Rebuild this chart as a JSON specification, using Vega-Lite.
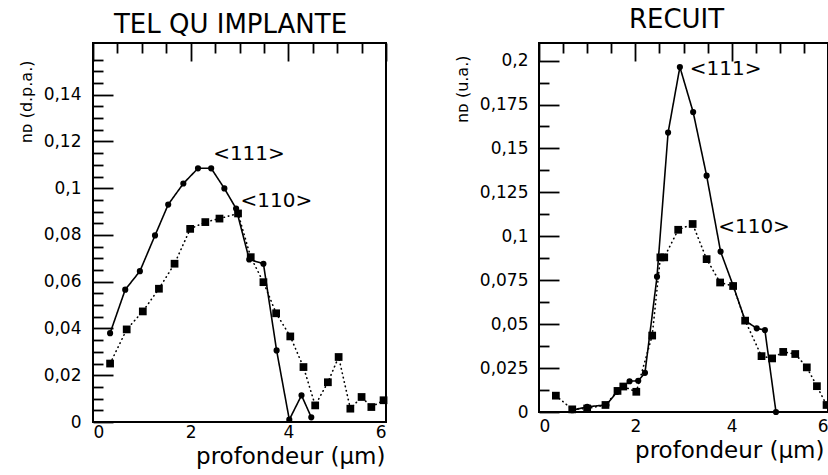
{
  "$schema": "https://vega.github.io/schema/vega-lite/v6.json",
  "background": "white",
  "padding": {"left": 17, "top": 6, "right": 0, "bottom": 0},
  "config": {
    "font": "DejaVu Sans",
    "view": {"stroke": "black", "strokeWidth": 2},
    "axis": {
      "grid": false,
      "domain": false,
      "ticks": false,
      "tickCount": 1000,
      "gridColor": "black",
      "gridOpacity": 1,
      "gridWidth": 1.8,
      "labelColor": "black",
      "labelFont": "DejaVu Sans",
      "labelFontSize": 17,
      "titleColor": "black",
      "titleFont": "DejaVu Sans",
      "titleFontWeight": "normal"
    },
    "title": {"fontWeight": "normal", "fontSize": 26, "color": "black", "font": "DejaVu Sans"},
    "concat": {"spacing": 64}
  },
  "datasets": {
    "implante": [
      {"serie": "<111>", "d": 0.35, "v": 0.038},
      {"serie": "<111>", "d": 0.66, "v": 0.0566},
      {"serie": "<111>", "d": 0.96, "v": 0.0645},
      {"serie": "<111>", "d": 1.27, "v": 0.0798},
      {"serie": "<111>", "d": 1.54, "v": 0.093},
      {"serie": "<111>", "d": 1.85, "v": 0.102},
      {"serie": "<111>", "d": 2.15, "v": 0.1085},
      {"serie": "<111>", "d": 2.42, "v": 0.1085},
      {"serie": "<111>", "d": 2.69, "v": 0.0999},
      {"serie": "<111>", "d": 2.93, "v": 0.0913},
      {"serie": "<111>", "d": 3.2, "v": 0.0695},
      {"serie": "<111>", "d": 3.49, "v": 0.0677},
      {"serie": "<111>", "d": 3.76, "v": 0.0306},
      {"serie": "<111>", "d": 4.02, "v": 0.001},
      {"serie": "<111>", "d": 4.27, "v": 0.0114},
      {"serie": "<111>", "d": 4.47, "v": 0.002},
      {"serie": "<110>", "d": 0.35, "v": 0.025},
      {"serie": "<110>", "d": 0.69, "v": 0.0396},
      {"serie": "<110>", "d": 1.02, "v": 0.0473},
      {"serie": "<110>", "d": 1.35, "v": 0.057},
      {"serie": "<110>", "d": 1.67, "v": 0.0677},
      {"serie": "<110>", "d": 1.99, "v": 0.0826},
      {"serie": "<110>", "d": 2.3, "v": 0.0855},
      {"serie": "<110>", "d": 2.59, "v": 0.087},
      {"serie": "<110>", "d": 2.97, "v": 0.0892},
      {"serie": "<110>", "d": 3.23, "v": 0.0705},
      {"serie": "<110>", "d": 3.49, "v": 0.0598},
      {"serie": "<110>", "d": 3.75, "v": 0.0465},
      {"serie": "<110>", "d": 4.04, "v": 0.0366},
      {"serie": "<110>", "d": 4.31, "v": 0.0235},
      {"serie": "<110>", "d": 4.55, "v": 0.0071},
      {"serie": "<110>", "d": 4.81, "v": 0.017},
      {"serie": "<110>", "d": 5.03, "v": 0.0278},
      {"serie": "<110>", "d": 5.27, "v": 0.0057},
      {"serie": "<110>", "d": 5.5, "v": 0.0107},
      {"serie": "<110>", "d": 5.7, "v": 0.0064},
      {"serie": "<110>", "d": 5.95, "v": 0.0093}
    ],
    "recuit": [
      {"serie": "<111>", "d": 0.69, "v": 0.001},
      {"serie": "<111>", "d": 1.0, "v": 0.003},
      {"serie": "<111>", "d": 1.4, "v": 0.004},
      {"serie": "<111>", "d": 1.62, "v": 0.0115},
      {"serie": "<111>", "d": 1.88, "v": 0.0175},
      {"serie": "<111>", "d": 2.06, "v": 0.0178},
      {"serie": "<111>", "d": 2.2, "v": 0.0223},
      {"serie": "<111>", "d": 2.45, "v": 0.077},
      {"serie": "<111>", "d": 2.68, "v": 0.159},
      {"serie": "<111>", "d": 2.925, "v": 0.1963},
      {"serie": "<111>", "d": 3.2, "v": 0.1707},
      {"serie": "<111>", "d": 3.48, "v": 0.1345},
      {"serie": "<111>", "d": 3.77, "v": 0.0913},
      {"serie": "<111>", "d": 4.03, "v": 0.072},
      {"serie": "<111>", "d": 4.28, "v": 0.052},
      {"serie": "<111>", "d": 4.52, "v": 0.0476},
      {"serie": "<111>", "d": 4.69, "v": 0.0466},
      {"serie": "<111>", "d": 4.92, "v": 0.0},
      {"serie": "<110>", "d": 0.35, "v": 0.0093},
      {"serie": "<110>", "d": 0.69, "v": 0.0015},
      {"serie": "<110>", "d": 1.0, "v": 0.002},
      {"serie": "<110>", "d": 1.38, "v": 0.004},
      {"serie": "<110>", "d": 1.63, "v": 0.012},
      {"serie": "<110>", "d": 1.75, "v": 0.0145},
      {"serie": "<110>", "d": 2.02, "v": 0.0115},
      {"serie": "<110>", "d": 2.35, "v": 0.0435},
      {"serie": "<110>", "d": 2.52, "v": 0.088},
      {"serie": "<110>", "d": 2.6, "v": 0.088},
      {"serie": "<110>", "d": 2.89, "v": 0.1037},
      {"serie": "<110>", "d": 3.19, "v": 0.107},
      {"serie": "<110>", "d": 3.48, "v": 0.087},
      {"serie": "<110>", "d": 3.76, "v": 0.0737},
      {"serie": "<110>", "d": 4.03, "v": 0.0717},
      {"serie": "<110>", "d": 4.28, "v": 0.052},
      {"serie": "<110>", "d": 4.62, "v": 0.0318},
      {"serie": "<110>", "d": 4.84, "v": 0.0305},
      {"serie": "<110>", "d": 5.07, "v": 0.0342},
      {"serie": "<110>", "d": 5.32, "v": 0.033},
      {"serie": "<110>", "d": 5.56, "v": 0.0254},
      {"serie": "<110>", "d": 5.77, "v": 0.0147},
      {"serie": "<110>", "d": 5.97, "v": 0.004}
    ],
    "etiquettes_implante": [
      {"d": 2.46, "v": 0.1148, "txt": "<111>"},
      {"d": 3.02, "v": 0.0947, "txt": "<110>"}
    ],
    "etiquettes_recuit": [
      {"d": 3.13, "v": 0.195, "txt": "<111>"},
      {"d": 3.72, "v": 0.1054, "txt": "<110>"}
    ]
  },
  "hconcat": [
    {
      "width": 293,
      "height": 379,
      "title": {"text": "TEL QU IMPLANTE", "offset": 5, "dx": -9},
      "data": {"name": "implante"},
      "layer": [
        {
          "mark": {"type": "line", "color": "black", "strokeWidth": 1.6, "strokeCap": "round"},
          "encoding": {
            "x": {
              "field": "d", "type": "quantitative",
              "scale": {"domain": [0, 6], "nice": false},
              "axis": {
                "title": "profondeur (µm)",
                "titleFontSize": 23,
                "titleAnchor": "end",
                "titleAlign": "right",
                "titleX": 292,
                "titlePadding": 5,
                "values": [0, 0.5, 1, 1.5, 2, 2.5, 3, 3.5, 4, 4.5, 5, 5.5, 6],
                "labelExpr": "datum.value % 2 == 0 ? format(datum.value, 'd') : ''",
                "grid": true,
                "gridDash": {"condition": {"test": "datum.value % 2 == 0", "value": [18, 2000]}, "value": [10, 2000]},
                "labelPadding": 2,
                "labelFontSize": 17
              }
            },
            "y": {
              "field": "v", "type": "quantitative",
              "scale": {"domain": [0, 0.1621], "nice": false},
              "axis": {
                "title": "nᴅ (d.p.a.)",
                "titleFontSize": 16,
                "titlePadding": 9,
                "titleAnchor": "end",
                "titleAlign": "right",
                "titleY": 17,
                "values": [0, 0.005, 0.01, 0.015, 0.02, 0.025, 0.03, 0.035, 0.04, 0.045, 0.05, 0.055, 0.06, 0.065, 0.07, 0.075, 0.08, 0.085, 0.09, 0.095, 0.1, 0.105, 0.11, 0.115, 0.12, 0.125, 0.13, 0.135, 0.14, 0.145, 0.15, 0.155],
                "labelExpr": "abs(datum.value * 50 - round(datum.value * 50)) < 0.001 && datum.value < 0.15 ? replace(format(datum.value, '~g'), '.', ',') : ''",
                "grid": true,
                "gridDash": {"condition": {"test": "abs(datum.value * 50 - round(datum.value * 50)) < 0.001", "value": [20, 2000]}, "value": [10, 2000]},
                "labelPadding": 12
              }
            },
            "detail": {"field": "serie"},
            "strokeDash": {
              "field": "serie", "type": "nominal",
              "scale": {"domain": ["<111>", "<110>"], "range": [[1, 0], [0.5, 4]]},
              "legend": null
            }
          }
        },
        {
          "transform": [{"filter": "datum.serie == '<111>'"}],
          "mark": {"type": "point", "shape": "circle", "filled": true, "color": "black", "size": 38, "opacity": 1},
          "encoding": {
            "x": {"field": "d", "type": "quantitative"},
            "y": {"field": "v", "type": "quantitative"}
          }
        },
        {
          "transform": [{"filter": "datum.serie == '<110>'"}],
          "mark": {"type": "square", "color": "black", "size": 60, "opacity": 1},
          "encoding": {
            "x": {"field": "d", "type": "quantitative"},
            "y": {"field": "v", "type": "quantitative"}
          }
        },
        {
          "data": {"name": "etiquettes_implante"},
          "mark": {"type": "text", "align": "left", "baseline": "middle", "fontSize": 20, "color": "black"},
          "encoding": {
            "x": {"field": "d", "type": "quantitative"},
            "y": {"field": "v", "type": "quantitative"},
            "text": {"field": "txt"}
          }
        }
      ]
    },
    {
      "width": 289,
      "height": 369,
      "title": {"text": "RECUIT", "offset": 9.7, "dx": -7},
      "data": {"name": "recuit"},
      "layer": [
        {
          "mark": {"type": "line", "color": "black", "strokeWidth": 1.6, "strokeCap": "round"},
          "encoding": {
            "x": {
              "field": "d", "type": "quantitative",
              "scale": {"domain": [0, 6], "nice": false},
              "axis": {
                "title": "profondeur (µm)",
                "titleFontSize": 23,
                "titleAnchor": "end",
                "titleAlign": "right",
                "titleX": 285,
                "titlePadding": 5,
                "values": [0, 0.5, 1, 1.5, 2, 2.5, 3, 3.5, 4, 4.5, 5, 5.5, 6],
                "labelExpr": "datum.value % 2 == 0 ? format(datum.value, 'd') : ''",
                "grid": true,
                "gridDash": {"condition": {"test": "datum.value % 2 == 0", "value": [18, 2000]}, "value": [10, 2000]},
                "labelPadding": 6,
                "labelFontSize": 17
              }
            },
            "y": {
              "field": "v", "type": "quantitative",
              "scale": {"domain": [0, 0.21], "nice": false},
              "axis": {
                "title": "nᴅ (u.a.)",
                "titleFontSize": 16,
                "titlePadding": 9,
                "titleAnchor": "end",
                "titleAlign": "right",
                "titleY": 12,
                "values": [0, 0.0125, 0.025, 0.0375, 0.05, 0.0625, 0.075, 0.0875, 0.1, 0.1125, 0.125, 0.1375, 0.15, 0.1625, 0.175, 0.1875, 0.2],
                "labelExpr": "abs(datum.value * 40 - round(datum.value * 40)) < 0.001 ? replace(format(datum.value, '~g'), '.', ',') : ''",
                "grid": true,
                "gridDash": {"condition": {"test": "abs(datum.value * 40 - round(datum.value * 40)) < 0.001", "value": [20, 2000]}, "value": [10, 2000]},
                "labelPadding": 11
              }
            },
            "detail": {"field": "serie"},
            "strokeDash": {
              "field": "serie", "type": "nominal",
              "scale": {"domain": ["<111>", "<110>"], "range": [[1, 0], [0.5, 4]]},
              "legend": null
            }
          }
        },
        {
          "transform": [{"filter": "datum.serie == '<111>'"}],
          "mark": {"type": "point", "shape": "circle", "filled": true, "color": "black", "size": 38, "opacity": 1},
          "encoding": {
            "x": {"field": "d", "type": "quantitative"},
            "y": {"field": "v", "type": "quantitative"}
          }
        },
        {
          "transform": [{"filter": "datum.serie == '<110>'"}],
          "mark": {"type": "square", "color": "black", "size": 60, "opacity": 1},
          "encoding": {
            "x": {"field": "d", "type": "quantitative"},
            "y": {"field": "v", "type": "quantitative"}
          }
        },
        {
          "data": {"name": "etiquettes_recuit"},
          "mark": {"type": "text", "align": "left", "baseline": "middle", "fontSize": 20, "color": "black"},
          "encoding": {
            "x": {"field": "d", "type": "quantitative"},
            "y": {"field": "v", "type": "quantitative"},
            "text": {"field": "txt"}
          }
        }
      ]
    }
  ]
}
